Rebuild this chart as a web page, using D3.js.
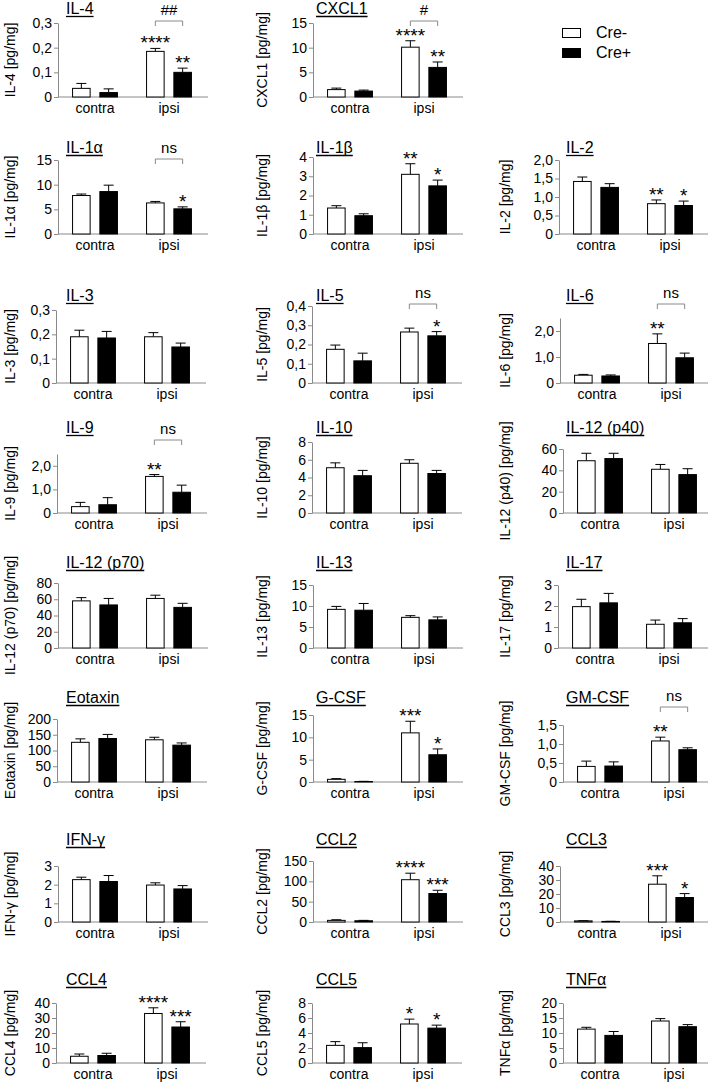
<!DOCTYPE html>
<html><head><meta charset="utf-8">
<script src="https://cdn.jsdelivr.net/npm/d3@7"></script>
<style>body{margin:0;background:#fff}svg{display:block}text{font-family:Arial,"Liberation Sans",sans-serif;fill:#000}</style>
</head><body><svg id="c" width="708" height="1086"></svg>
<script>
// ---------- data ----------
const cytokines = ["IL-4","CXCL1","IL-1α","IL-1β","IL-2","IL-3","IL-5","IL-6","IL-9","IL-10","IL-12 (p40)","IL-12 (p70)","IL-13","IL-17","Eotaxin","G-CSF","GM-CSF","IFN-γ","CCL2","CCL3","CCL4","CCL5","TNFα"];
const groups = ["contra","ipsi"];
const series = ["Cre-","Cre+"];
const creMinusContra = [0.035,1.5,7.8,1.35,1.42,0.19,0.175,0.30,0.27,5.1,49,58,9.2,1.97,126,0.6,0.41,2.27,4,0.8,4.5,2.35,11.3];
const crePlusContra  = [0.018,1.2,8.6,0.95,1.26,0.185,0.115,0.27,0.35,4.2,51,53,9.0,2.15,138,0.1,0.42,2.17,3,0.4,5.0,2.05,9.2];
const creMinusIpsi   = [0.185,10.1,6.3,3.1,0.82,0.19,0.265,1.52,1.55,5.6,41,61,7.3,1.13,134,11,1.08,1.98,104,27,33,5.2,14.0];
const crePlusIpsi    = [0.10,6.0,5.1,2.5,0.77,0.148,0.245,0.97,0.88,4.45,36,50,6.7,1.2,117,6.1,0.85,1.77,70,17.5,24,4.65,12.1];
const errMinusContra = [0.02,0.3,0.3,0.12,0.12,0.027,0.022,0.03,0.18,0.55,7,4,0.7,0.35,11,0.15,0.14,0.13,1.5,0.2,1.5,0.5,0.6];
const errPlusContra  = [0.015,0.2,1.3,0.1,0.1,0.027,0.04,0.04,0.3,0.6,5,8,1.6,0.45,13,0.05,0.11,0.32,1,0.1,1.5,0.65,1.3];
const errMinusIpsi   = [0.012,1.3,0.3,0.55,0.1,0.017,0.02,0.37,0.08,0.4,4.5,4,0.4,0.2,8,2.6,0.1,0.12,16,6,3.8,0.65,0.8];
const errPlusIpsi    = [0.017,1.1,0.4,0.3,0.12,0.016,0.022,0.18,0.3,0.35,5.5,5,0.7,0.2,7,1.3,0.05,0.18,8,2.8,3.5,0.4,0.7];
const yMax = [0.3,15,15,4,2.0,0.3,0.4,2.5,2.5,8,60,80,15,3,200,15,1.5,3,150,40,40,8,20];
const yTicks = [
  [0,0.1,0.2,0.3],[0,5,10,15],[0,5,10,15],[0,1,2,3,4],[0,0.5,1,1.5,2],
  [0,0.1,0.2,0.3],[0,0.1,0.2,0.3,0.4],[0,1,2],[0,1,2],[0,2,4,6,8],[0,20,40,60],
  [0,20,40,60,80],[0,5,10,15],[0,1,2,3],[0,50,100,150,200],[0,5,10,15],[0,0.5,1,1.5],
  [0,1,2,3],[0,50,100,150],[0,10,20,30,40],[0,10,20,30,40],[0,2,4,6,8],[0,5,10,15,20]];
const tickDecimals = [1,0,0,0,1,1,1,1,1,0,0,0,0,0,0,0,1,0,0,0,0,0,0];
const starsMinusIpsi = ["****","****","","**","**","","","**","**","","","","","","","***","**","","****","***","****","*",""];
const starsPlusIpsi  = ["**","**","*","*","*","","*","","","","","","","","","*","","","***","*","***","*",""];
const bracketText    = ["##","#","ns","","","","ns","ns","ns","","","","","","","","ns","","","","","",""];

// ---------- layout (pixels) ----------
const cellCol = [0,1,0,1,2,0,1,2,0,1,2,0,1,2,0,1,2,0,1,2,0,1,2];
const cellRow = [0,0,1,1,1,2,2,2,3,3,3,4,4,4,5,5,5,6,6,6,7,7,7];
const axisX = [58,313,58,313,559,56,312,560,57,312,563,58,313,558,57,313,563,58,313,560,56,312,563];
const topY  = [23,23,160,157,160,310,306,318,454,442,449,583,585,585,719,715,725,866,861,866,1003,1003,1003];
const rowBase = [97,234,383,513,648,782,922,1063];
const rowTitle = [14,153,301,433,568,703,845,985];
const rowBracket = [21,159,304,440,575,707,850,990];
const labelX = [11,263,506];
const titleX = [66,316,566];
const plotW = 150;

const svg = d3.select("#c");
const loc = d3.formatLocale({decimal:",",thousands:".",grouping:[3],currency:["",""]});

const x0 = d3.scaleBand().domain(groups).range([0,148]).paddingInner(0.38).paddingOuter(0.19);
const x1 = d3.scaleBand().domain(series).range([0,x0.bandwidth()]).paddingInner(0.32);

cytokines.forEach((name,i)=>{
  const r = cellRow[i], c = cellCol[i];
  const base = rowBase[r];
  const g = svg.append("g").attr("transform",`translate(${axisX[i]},0)`);
  const y = d3.scaleLinear().domain([0,yMax[i]]).range([base,topY[i]]);
  const fmt = tickDecimals[i] ? (v=> v===0 ? "0" : loc.format(".1f")(v)) : (v=>loc.format("d")(v));
  const ax = g.append("g").call(d3.axisLeft(y).tickValues(yTicks[i]).tickFormat(fmt).tickSize(4).tickSizeOuter(0));
  ax.select(".domain").attr("stroke","#8a8a8a");
  ax.selectAll(".tick line").attr("stroke","#8a8a8a");
  ax.selectAll(".tick text").attr("font-size",14).attr("font-family","Arial, 'Liberation Sans', sans-serif").attr("fill","#000").attr("x",-6);
  const xa = g.append("g").attr("transform",`translate(0,${base})`).call(d3.axisBottom(x0).tickSize(0).tickPadding(6));
  xa.select(".domain").attr("stroke","#8a8a8a").attr("d",`M0,0H${plotW}`);
  xa.selectAll(".tick text").attr("font-size",14).attr("font-family","Arial, 'Liberation Sans', sans-serif").attr("fill","#000");

  const rows = [
    {grp:"contra",s:"Cre-",v:creMinusContra[i],e:errMinusContra[i],star:""},
    {grp:"contra",s:"Cre+",v:crePlusContra[i],e:errPlusContra[i],star:""},
    {grp:"ipsi",s:"Cre-",v:creMinusIpsi[i],e:errMinusIpsi[i],star:starsMinusIpsi[i]},
    {grp:"ipsi",s:"Cre+",v:crePlusIpsi[i],e:errPlusIpsi[i],star:starsPlusIpsi[i]}
  ];
  const cx = d => x0(d.grp)+x1(d.s)+x1.bandwidth()/2;
  g.selectAll("line.err").data(rows).join("line").attr("class","err")
    .attr("x1",cx).attr("x2",cx).attr("y1",d=>y(d.v)).attr("y2",d=>y(d.v+d.e))
    .attr("stroke","#000").attr("stroke-width",1);
  g.selectAll("line.cap").data(rows).join("line").attr("class","cap")
    .attr("x1",d=>cx(d)-5).attr("x2",d=>cx(d)+5).attr("y1",d=>y(d.v+d.e)).attr("y2",d=>y(d.v+d.e))
    .attr("stroke","#000").attr("stroke-width",1);
  g.selectAll("rect.bar").data(rows).join("rect").attr("class","bar")
    .attr("x",d=>x0(d.grp)+x1(d.s)+0.5).attr("width",x1.bandwidth()-1)
    .attr("y",d=>y(d.v)).attr("height",d=>base-y(d.v))
    .attr("fill",d=>d.s==="Cre-"?"#fff":"#000").attr("stroke","#000").attr("stroke-width",1);
  g.selectAll("text.star").data(rows.filter(d=>d.star)).join("text").attr("class","star")
    .attr("x",cx).attr("y",d=>y(d.v+d.e)+1).attr("text-anchor","middle")
    .attr("font-size",19).text(d=>d.star);
  if (bracketText[i]) {
    const a = cx(rows[2]), b = cx(rows[3]), by = rowBracket[r];
    g.append("path").attr("d",`M${a},${by+5}V${by}H${b}V${by+5}`).attr("fill","none").attr("stroke","#8a8a8a").attr("stroke-width",1);
    g.append("text").attr("x",(a+b)/2).attr("y",by-6).attr("text-anchor","middle").attr("font-size",15).text(bracketText[i]);
  }
  // title
  const t = svg.append("text").attr("x",titleX[c]).attr("y",rowTitle[r]).attr("font-size",16).text(name);
  const tw = t.node().getComputedTextLength();
  svg.append("line").attr("x1",titleX[c]).attr("x2",titleX[c]+tw).attr("y1",rowTitle[r]+2.5).attr("y2",rowTitle[r]+2.5).attr("stroke","#000").attr("stroke-width",1.3);
  // y label
  const cyl = (base+topY[i])/2;
  svg.append("text").attr("transform",`translate(${labelX[c]},${cyl}) rotate(-90)`)
    .attr("text-anchor","middle").attr("dominant-baseline","middle").attr("font-size",14).text(name+" [pg/mg]");
});

// legend
const leg = svg.append("g").attr("transform","translate(562,28)");
series.forEach((s,k)=>{
  leg.append("rect").attr("x",0.5).attr("y",k*20+0.5).attr("width",18).attr("height",9)
    .attr("fill",k?"#000":"#fff").attr("stroke","#000").attr("stroke-width",1);
  leg.append("text").attr("x",34).attr("y",k*20+10).attr("font-size",16).text(s);
});
</script></body></html>
